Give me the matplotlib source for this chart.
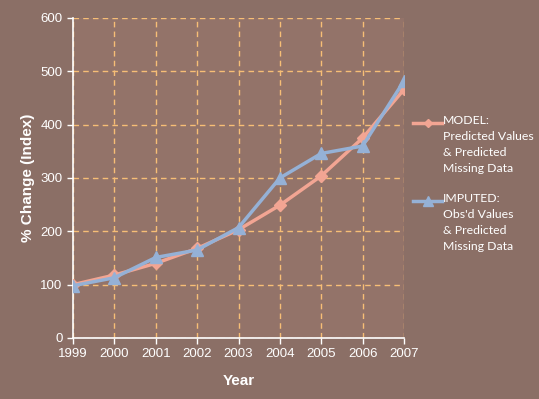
import numpy as np
import matplotlib
matplotlib.use("Agg")
import matplotlib.pyplot as plt
from matplotlib.lines import Line2D

years = [1999, 2000, 2001, 2002, 2003, 2004, 2005, 2006, 2007]
model_vals = [100, 118, 140, 168, 203, 249, 304, 375, 466]
imputed_vals = [98, 113, 151, 165, 207, 300, 346, 360, 482]
model_label = "MODEL:\nPredicted Values\n& Predicted\nMissing Data"
imputed_label = "IMPUTED:\nObs'd Values\n& Predicted\nMissing Data"

bg = "#8B6F66"
face = "#937369"
grid_col = "#F7BE76"
model_col = "#F2A593"
imp_col = "#95B1D6"

W, H = 539, 399
fig = plt.figure(figsize=(W / 100, H / 100), dpi=100, facecolor=bg)
ax = fig.add_axes([73 / W, 61 / H, 331 / W, 320 / H], facecolor=face)

ax.plot(years, model_vals, color=model_col, lw=2.5, marker="D", ms=6, zorder=3)
ax.plot(years, imputed_vals, color=imp_col, lw=2.5, marker="^", ms=9, zorder=4)

ax.set_xlim(1999, 2007)
ax.set_ylim(0, 600)
ax.set_xticks(years)
ax.set_yticks(np.arange(0, 601, 100))
ax.grid(True, color=grid_col, ls=(0, (4, 3)), lw=1)
ax.set_axisbelow(True)

for s in ["top", "right"]:
    ax.spines[s].set_visible(False)
for s in ["left", "bottom"]:
    ax.spines[s].set_color("white")
    ax.spines[s].set_linewidth(1.2)

ax.tick_params(colors="white", labelcolor="white", length=4, width=1, labelsize=9.5)
for lab in ax.get_xticklabels() + ax.get_yticklabels():
    lab.set_family("Liberation Sans")

ax.set_xlabel("Year", color="white", fontsize=11, fontweight="bold",
              family="Liberation Sans", labelpad=10)
ax.set_ylabel("% Change (Index)", color="white", fontsize=11, fontweight="bold",
              family="Liberation Sans", labelpad=4)

# legend drawn by hand so the handle sits beside the first text line
entries = [(model_label, model_col, "D", 4, 123), (imputed_label, imp_col, "^", 7, 201)]
for label, col, mk, ms, yp in entries:
    fy = 1 - yp / H
    fig.add_artist(Line2D([413 / W, 442 / W], [fy, fy], color=col, lw=2.5,
                          transform=fig.transFigure))
    fig.add_artist(Line2D([427.5 / W], [fy], color=col, marker=mk, ms=ms,
                          transform=fig.transFigure))
    fig.text(443 / W, 1 - (yp - 8) / H, label, color="white", family="Lato",
             fontsize=8.8, va="top", ha="left", linespacing=1.55)

fig.savefig("out.png", dpi=100, facecolor=bg)
